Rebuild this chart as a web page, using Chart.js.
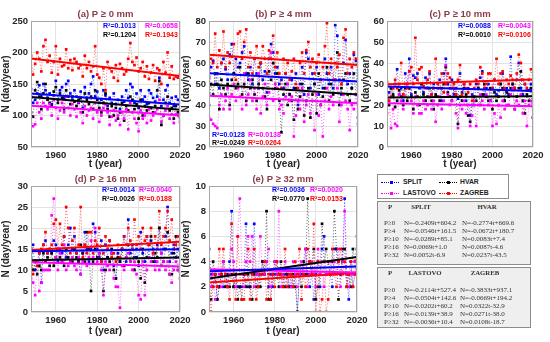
<!DOCTYPE html>
<html><head><meta charset="utf-8">
<script src="https://cdn.jsdelivr.net/npm/chart.js@4"></script>
<style>
body{margin:0;background:#fff;width:550px;height:342px;overflow:hidden;position:relative;font-family:"Liberation Sans",Arial,sans-serif}
canvas{position:absolute}
.box{position:absolute;box-sizing:border-box}
.lg{position:absolute;font:bold 6.8px "Liberation Sans",Arial,sans-serif;color:#222;line-height:8px;height:8px;white-space:nowrap}
.ln{position:absolute;height:0;border-top:1px dotted}
.mk{position:absolute;width:3px;height:3px}
.tt{position:absolute;font:7px "Liberation Serif","Times New Roman",serif;color:#333;line-height:8px;height:8px;white-space:nowrap}
.th{position:absolute;font:bold 6.8px "Liberation Serif","Times New Roman",serif;color:#333;line-height:8px;height:8px;white-space:nowrap;transform:translateX(-50%)}
</style></head><body>
<canvas id="c0"></canvas><canvas id="c1"></canvas><canvas id="c2"></canvas><canvas id="c3"></canvas><canvas id="c4"></canvas>
<div class="box" id="leg" style="left:377px;top:174px;width:132px;height:25px;border:1px solid #8c8c8c;background:#fff"></div>
<div class="box" id="tab1" style="left:377px;top:201px;width:154px;height:64px;border:1.5px solid #8c8c8c;background:#efefef"></div>
<div class="box" id="tab2" style="left:377px;top:267px;width:154px;height:61px;border:1.5px solid #8c8c8c;background:#efefef"></div>
<script>
const years = [1948,1949,1950,1951,1952,1953,1954,1955,1956,1957,1958,1959,1960,1961,1962,1963,1964,1965,1966,1967,1968,1969,1970,1971,1972,1973,1974,1975,1976,1977,1978,1979,1980,1981,1982,1983,1984,1985,1986,1987,1988,1989,1990,1991,1992,1993,1994,1995,1996,1997,1998,1999,2000,2001,2002,2003,2004,2005,2006,2007,2008,2009,2010,2011,2012,2013,2014,2015,2016,2017,2018,2019,2020];
const stations = ['SPLIT','HVAR','LASTOVO','ZAGREB'];
const thresholds = ['P≥0','P≥4','P≥10','P≥16','P≥32'];
const panelTitles = ['(a) P ≥ 0 mm','(b) P ≥ 4 mm','(c) P ≥ 10 mm','(d) P ≥ 16 mm','(e) P ≥ 32 mm'];
const xTicks = [1960,1980,2000,2020];
const yTicksA = [50,100,150,200,250];
const yTicksB = [20,30,40,50,60,70,80];
const yTicksC = [0,10,20,30,40,50,60];
const yTicksD = [0,5,10,15,20,25,30];
const yTicksE = [0,2,4,6,8,10];

// (a) P >= 0 mm
const splitA = [142,120,125,135,148,130,150,140,128,135, 118,132,155,125,140,145,128,150,155,135, 125,140,130,120,138,112,145,128,135,150, 162,130,138,120,125,140,132,115,128,120, 135,118,125,110,130,122,140,128,150,145, 120,135,112,140,125,130,118,140,135,128, 122,130,160,115,125,140,148,120,128,115, 130,125,100];
const hvarA = [105,98,140,153,130,110,135,150,125,120, 115,138,145,120,135,128,110,140,130,118, 130,122,115,125,128,105,135,125,118,130, 110,140,125,112,105,120,135,110,98,115, 100,112,95,105,120,92,115,108,130,125, 110,118,95,125,100,115,108,120,112,105, 115,140,155,85,100,120,130,108,112,95, 115,105,97];
const lastovoA = [98,83,86,120,105,95,120,115,110,118, 100,125,112,95,108,120,105,130,112,100, 118,110,98,122,105,88,115,100,108,112, 95,120,105,90,100,112,118,105,85,98, 108,92,100,85,105,95,110,78,120,105, 95,88,75,108,95,100,88,110,92,100, 105,110,125,90,100,108,115,95,102,88, 102,100,90];
const zagrebA = [195,165,182,200,190,170,210,220,185,195, 168,185,210,165,190,178,180,205,175,188, 172,190,185,175,180,162,195,175,185,170, 178,210,165,160,150,175,140,185,175,170, 160,180,155,182,175,165,170,190,215,185, 180,192,170,175,185,162,178,158,168,180, 155,175,172,150,185,168,200,160,178,158, 162,160,165];
// (b) P >= 4 mm
const splitB = [45,58,61,50,55,48,60,62,57,52, 64,69,55,62,58,60,65,68,55,52, 58,50,62,55,48,60,52,56,46,62, 69,65,55,58,50,52,48,55,50,45, 52,48,55,40,50,58,45,65,62,48, 55,50,58,45,52,48,62,55,50,58, 48,78,73,52,45,60,71,50,55,48, 64,61,34];
const hvarB = [40,50,45,55,50,38,52,48,45,50, 40,52,55,48,50,58,45,50,42,55, 48,52,45,42,50,60,48,44,38,56, 52,60,48,55,42,27,45,50,40,45, 42,33,48,38,44,50,35,42,48,34, 45,50,36,55,40,44,48,58,42,50, 45,52,65,40,48,52,55,45,42,48, 55,45,45];
const lastovoB = [34,33,31,30,29,40,45,38,42,48, 38,45,50,42,48,44,38,55,40,45, 52,42,48,38,55,36,44,50,40,46, 65,42,50,48,38,40,36,44,50,42, 44,25,35,42,38,48,32,40,45,36, 42,28,45,35,40,25,42,48,38,44, 40,52,48,32,40,45,42,38,28,40, 38,45,31];
const zagrebB = [53,62,60,74,58,66,60,75,58,65, 60,63,69,52,74,75,62,70,76,58, 65,55,62,68,58,60,68,62,55,66, 62,73,58,65,55,48,62,55,60,52, 56,62,50,48,60,65,55,66,70,58, 62,55,60,64,52,58,68,79,55,62, 52,60,58,64,50,72,76,55,62,58, 65,62,61];
// (c) P >= 10 mm
const splitC = [23,26,28,24,30,37,25,28,22,35, 30,42,25,34,33,35,28,30,26,33, 28,35,25,30,24,28,32,22,35,42, 30,28,32,25,28,23,35,26,30,22, 28,15,25,20,30,28,33,36,25,28, 30,22,28,32,25,27,30,35,22,28, 25,43,30,28,32,40,28,25,30,27, 27,30,21];
const hvarC = [22,20,28,25,19,22,27,24,20,28, 22,28,24,18,26,24,20,30,25,22, 24,28,22,18,25,24,22,28,30,38, 26,24,22,28,25,11,24,22,28,25, 15,12,20,24,22,28,20,25,30,24, 22,28,18,26,22,24,30,28,22,26, 24,28,30,18,24,28,36,22,16,25, 22,28,14];
const lastovoC = [16,22,9,18,11,10,25,22,18,24, 30,36,22,16,24,20,16,16,22,18, 20,24,18,22,12,20,24,18,22,39, 25,20,22,28,16,9,20,18,22,16, 20,10,15,22,10,20,25,22,18,25, 20,22,10,16,11,20,14,22,18,20, 20,25,28,18,22,20,25,16,22,10, 20,22,14];
const zagrebC = [31,22,24,28,32,28,30,40,25,30, 28,36,38,30,52,32,37,38,29,28, 32,36,25,28,42,30,28,35,26,30, 35,33,28,30,25,32,39,25,30,28, 26,30,22,28,32,30,38,35,28,30, 35,35,28,32,42,30,35,36,28,32, 30,34,32,28,35,44,40,32,30,28, 32,37,32];
// (d) P >= 16 mm
const splitD = [13,16,10,12,14,7,16,17,14,15, 14,17,16,12,15,14,18,13,16,20, 15,18,14,12,9,14,19,15,12,15, 21,19,15,13,17,10,16,13,17,14, 11,8,14,12,15,18,12,22,14,16, 13,15,11,19,14,12,18,13,17,15, 12,16,20,14,15,18,25,12,14,16, 13,15,13];
const hvarD = [14,10,12,9,11,10,14,12,13,11, 14,11,13,15,13,12,11,15,13,12, 12,15,13,12,16,14,12,19,15,5, 12,15,13,14,12,5,10,13,12,15, 10,8,13,12,15,11,13,16,12,15, 10,13,12,8,15,7,13,16,18,12, 14,13,20,11,12,15,19,9,9,14, 18,10,13];
const lastovoD = [8,7,4,12,5,7,10,10,10,10, 23,27,13,10,14,12,16,10,11,12, 13,11,10,13,9,12,16,11,13,17, 13,20,12,14,10,4,12,11,10,14, 8,6,6,1,11,10,13,14,12,10, 12,9,4,3,12,4,10,13,12,14, 10,12,10,14,12,10,12,9,7,10, 12,10,8];
const zagrebD = [15,9,12,11,14,15,16,19,14,15, 16,21,22,15,21,16,18,25,20,14, 17,20,14,16,25,13,16,14,19,19, 14,17,16,20,12,14,18,15,17,13, 14,12,16,13,15,18,16,20,17,15, 22,16,18,15,20,17,18,16,20,14, 18,15,24,16,18,20,24,17,22,15, 16,18,16];
// (e) P >= 32 mm
const splitE = [5,3,2,3,1,2,3,2,3,2, 4,8,2,3,2,2,2,3,7,2, 2,3,7,3,2,3,4,3,4,2, 3,2,3,4,3,3,2,3,3,2, 3,2,3,0,3,3,4,5,3,2, 3,1,3,4,2,5,6,3,4,3, 2,5,5,4,3,4,9,3,1,4, 2,3,4];
const hvarE = [2,1,4,3,1,2,3,4,2,3, 2,3,2,3,1,2,1,3,2,3, 2,1,3,2,3,2,4,3,8,1, 1,3,4,3,2,4,3,2,3,2, 2,3,2,0,3,2,4,3,9,4, 3,5,1,2,3,7,4,5,4,3, 4,8,5,1,3,5,5,2,3,2, 5,4,5];
const lastovoE = [5,2,3,1,2,3,2,4,3,2, 3,5,4,2,6,9,3,2,4,6, 4,6,2,3,3,6,3,3,4,5, 2,3,4,3,8,2,3,4,2,3, 2,4,3,2,3,4,3,5,2,3, 4,3,2,5,3,4,2,3,3,4, 3,4,3,5,2,4,8,3,2,3, 3,4,3];
const zagrebE = [3,0,2,3,2,5,3,5,3,2, 1,7,3,1,6,3,1,1,3,5, 1,3,5,1,2,3,3,4,1,3, 1,3,2,4,3,3,2,5,2,3, 3,2,4,3,5,1,3,2,5,4, 3,7,0,4,0,1,4,0,1,3, 5,3,2,4,5,3,4,2,3,4, 2,3,6];

// linear trend coefficients N = a*t + b (from the tables)
const slopeSplit = [-0.2409,-0.0546,-0.0289,0.0069,0.0052];
const interSplit = [604.2,161.5,85.1,1.0,-6.9];
const slopeHvar = [-0.2774,-0.0672,0.0083,0.0087,0.0237];
const interHvar = [669.6,180.7,7.4,-4.6,-43.5];
const slopeLastovo = [-0.2114,-0.0504,-0.0202,-0.0139,-0.0036];
const interLastovo = [527.4,142.6,60.2,38.9,10.4];
const slopeZagreb = [-0.3833,-0.0669,0.0322,0.0271,0.0108];
const interZagreb = [937.1,194.2,-32.9,-38.0,-18.7];

const r2Split = ['0.1013','0.0128','0.0088','0.0014','0.0036'];
const r2Hvar = ['0.1204','0.0249','0.0010','0.0026','0.0770'];
const r2Lastovo = ['0.0658','0.0138','0.0043','0.0040','0.0020'];
const r2Zagreb = ['0.1943','0.0264','0.0106','0.0188','0.0153'];

const colors = ['#0000ff','#000000','#ff00ff','#ff0000'];
const panelSeries = [[splitA,hvarA,lastovoA,zagrebA],[splitB,hvarB,lastovoB,zagrebB],[splitC,hvarC,lastovoC,zagrebC],[splitD,hvarD,lastovoD,zagrebD],[splitE,hvarE,lastovoE,zagrebE]];
const panelYTicks = [yTicksA,yTicksB,yTicksC,yTicksD,yTicksE];
const slopes = [slopeSplit,slopeHvar,slopeLastovo,slopeZagreb];
const inters = [interSplit,interHvar,interLastovo,interZagreb];
const r2s = [r2Split,r2Hvar,r2Lastovo,r2Zagreb];

// layout (page px): canvas box and plot area
const layouts = [
  {l:0,t:0,w:192,h:170, aL:31,aR:180,aT:21,aB:147, r2:[[103,26],[103,35],[145,26],[145,35]]},
  {l:180,t:0,w:190,h:170, aL:209,aR:358,aT:21,aB:147, r2:[[212,135],[212,143],[248,135],[248,143]]},
  {l:360,t:0,w:190,h:170, aL:387,aR:533,aT:21,aB:147, r2:[[458,26],[458,35],[498,26],[498,35]]},
  {l:0,t:165,w:192,h:172, aL:31,aR:180,aT:186,aB:312, r2:[[102,190],[102,199],[139,190],[139,199]]},
  {l:180,t:165,w:190,h:172, aL:209,aR:357,aT:186,aB:312, r2:[[272,190],[272,199],[310,190],[310,199]]}
];

Chart.defaults.font.family = "'Liberation Sans', Arial, sans-serif";

const deco = {
  id:'deco',
  afterDraw(chart){
    const o = chart.options.plugins.deco;
    const {ctx, chartArea:a} = chart;
    ctx.save();
    ctx.strokeStyle = '#a6a6a6'; ctx.lineWidth = 1;
    ctx.strokeRect(a.left+0.5, a.top+0.5, a.right-a.left-1, a.bottom-a.top-1);
    ctx.fillStyle = '#8b3a4a';
    ctx.font = "bold 9.5px 'Liberation Sans', Arial, sans-serif";
    ctx.textAlign = 'center'; ctx.textBaseline = 'middle';
    ctx.fillText(o.title, (a.left+a.right)/2, a.top-7);
    ctx.font = "bold 7px 'Liberation Sans', Arial, sans-serif";
    ctx.textAlign = 'left';
    o.labels.forEach(lb => { ctx.fillStyle = lb.c; ctx.fillText(lb.text, lb.x, lb.y); });
    ctx.restore();
  }
};

function makeChart(i){
  const L = layouts[i];
  const cv = document.getElementById('c'+i);
  cv.width = L.w; cv.height = L.h; cv.style.left = L.l+'px'; cv.style.top = L.t+'px';
  const series = panelSeries[i];
  const yt = panelYTicks[i];
  const t0 = years[0], t1 = years[years.length-1];
  const ds = [];
  for (let s=0;s<4;s++){
    const a = slopes[s][i], b = inters[s][i];
    ds.push({data:[{x:t0,y:a*t0+b},{x:t1,y:a*t1+b}], borderColor:colors[s], borderWidth:2, pointRadius:0, order:s, fill:false});
  }
  for (let s=0;s<4;s++){
    ds.push({data:years.map((yr,k)=>({x:yr,y:series[s][k]})), borderColor:colors[s], borderWidth:0.6, borderDash:[1,2],
      pointRadius:1.9, pointStyle:'rect', pointBackgroundColor:colors[s], pointBorderWidth:0, order:10-s, fill:false});
  }
  const tickFont = {size:9.5, weight:'bold'};
  const labels = [];
  for (let s=0;s<4;s++) labels.push({text:'R²='+r2s[s][i], c:colors[s], x:L.r2[s][0]-L.l, y:L.r2[s][1]-L.t});
  new Chart(cv, {
    type:'line',
    data:{datasets:ds},
    options:{
      responsive:false, animation:false, events:[],
      layout:{padding:{left:0, top:L.aT-L.t, right:(L.l+L.w)-L.aR, bottom:0}},
      plugins:{legend:{display:false}, tooltip:{enabled:false}, deco:{title:panelTitles[i], labels}},
      scales:{
        x:{type:'linear', min:t0, max:t1,
          afterBuildTicks:s=>{s.ticks = xTicks.map(v=>({value:v}));},
          afterFit:s=>{s.height=(L.t+L.h)-L.aB; s.paddingLeft=0; s.paddingRight=0;},
          grid:{color:'#e3e3e3', drawTicks:false}, border:{display:false},
          ticks:{padding:3, color:'#262626', font:tickFont, callback:v=>String(v), maxRotation:0, autoSkip:false},
          title:{display:true, text:'t (year)', padding:0, color:'#262626', font:{size:10, weight:'bold'}}},
        y:{type:'linear', min:yt[0], max:yt[yt.length-1],
          afterBuildTicks:s=>{s.ticks = yt.map(v=>({value:v}));},
          afterFit:s=>{s.width=L.aL-L.l; s.paddingTop=0; s.paddingBottom=0;},
          grid:{color:'#e3e3e3', drawTicks:false}, border:{display:false},
          ticks:{padding:3, color:'#262626', font:tickFont, callback:v=>String(v), autoSkip:false},
          title:{display:true, text:'N (day/year)', padding:0, color:'#262626', font:{size:10, weight:'bold'}}}
      }
    },
    plugins:[deco]
  });
}
for (let i=0;i<5;i++) makeChart(i);

// legend
const leg = document.getElementById('leg');
const legPos = [[3,13,25,7],[61,70,82,7],[3,13,25,18],[61,70,82,18]];
stations.forEach((name,s)=>{
  const p = legPos[s];
  const ln = document.createElement('div'); ln.className='ln';
  ln.style.cssText = `left:${p[0]}px;top:${p[3]}px;width:18px;border-top-color:${colors[s]}`;
  const mk = document.createElement('div'); mk.className='mk';
  mk.style.cssText = `left:${p[1]-1}px;top:${p[3]-1}px;background:${colors[s]}`;
  const tx = document.createElement('div'); tx.className='lg';
  tx.style.cssText = `left:${p[2]}px;top:${p[3]-4}px`; tx.textContent = name;
  leg.appendChild(ln); leg.appendChild(mk); leg.appendChild(tx);
});

function eq(a,b){ return 'N=' + a.toFixed(4) + 't' + (b<0?'-':'+') + Math.abs(b).toFixed(1); }
function buildTable(id, sA, sB, rows, colP, colA, colB, hA, hB){
  const box = document.getElementById(id);
  const add = (cls, txt, x, y) => { const d=document.createElement('div'); d.className=cls; d.textContent=txt; d.style.left=x+'px'; d.style.top=(y-4)+'px'; box.appendChild(d); };
  add('th','P',12,5); add('th',stations[sA],hA,5); add('th',stations[sB],hB,5);
  thresholds.forEach((th,k)=>{
    add('tt', th, colP, rows[k]);
    add('tt', eq(slopes[sA][k], inters[sA][k]), colA, rows[k]);
    add('tt', eq(slopes[sB][k], inters[sB][k]), colB, rows[k]);
  });
}
buildTable('tab1',0,1,[21,29,37,45,53],6,26,84,43,109);
buildTable('tab2',2,3,[22,30,38,46,54],6,26,82,47,107);
</script>
</body></html>
